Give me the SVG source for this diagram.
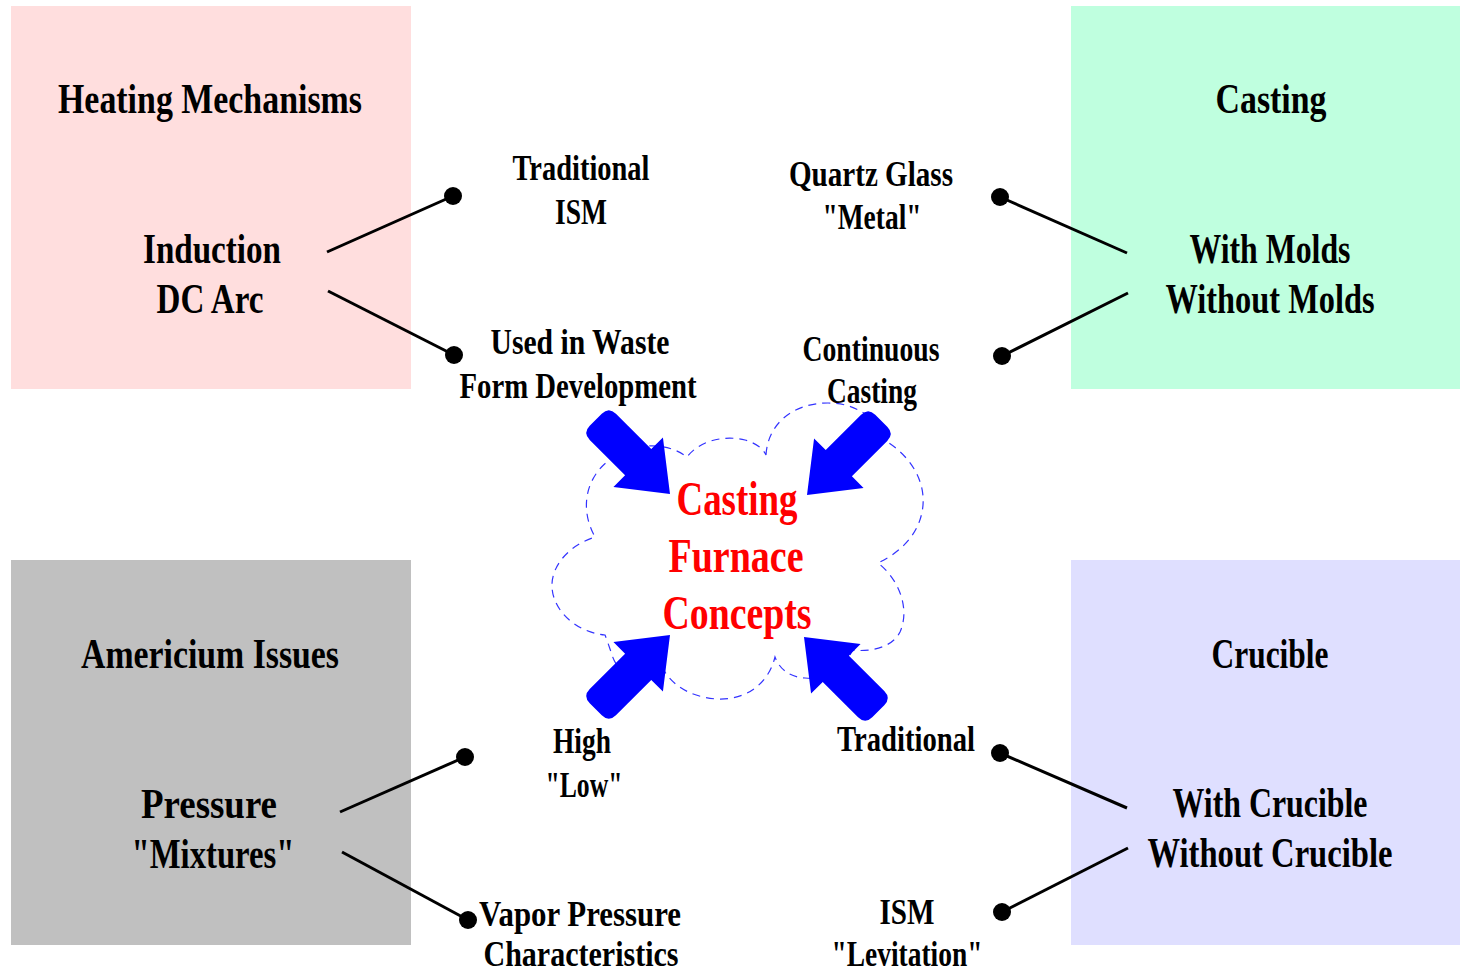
<svg xmlns="http://www.w3.org/2000/svg" width="1460" height="975" viewBox="0 0 1460 975">
<defs>
<style>
.h{font-family:"Liberation Serif","Times New Roman",serif;font-weight:bold;font-size:42px;fill:#000;text-anchor:middle}
.m{font-family:"Liberation Serif","Times New Roman",serif;font-weight:bold;font-size:35px;fill:#000;text-anchor:middle}
.c{font-family:"Liberation Serif","Times New Roman",serif;font-weight:bold;font-size:48px;fill:#ff0000;text-anchor:middle}
.ln{stroke:#000;stroke-width:3;fill:none}
.dot{fill:#000}
.arr{fill:#0000ff}
</style>
<path id="arrow" d="M0,0 L-45,-35 L-45,-18.5 L-95,-18.5 Q-105,-18.5 -105,-8.5 L-105,8.5 Q-105,18.5 -95,18.5 L-45,18.5 L-45,35 Z"/>
</defs>
<rect width="1460" height="975" fill="#fff"/>

<g id="heating">
<rect x="11" y="6" width="400" height="383" fill="#ffdede"/>
<text class="h" x="210" y="113" textLength="304" lengthAdjust="spacingAndGlyphs">Heating Mechanisms</text>
<text class="h" x="212" y="263" textLength="138" lengthAdjust="spacingAndGlyphs">Induction</text>
<text class="h" x="210" y="313" textLength="107" lengthAdjust="spacingAndGlyphs">DC Arc</text>
</g>

<g id="casting">
<rect x="1071" y="6" width="389" height="383" fill="#bfffdf"/>
<text class="h" x="1271" y="113" textLength="111" lengthAdjust="spacingAndGlyphs">Casting</text>
<text class="h" x="1270" y="263" textLength="161" lengthAdjust="spacingAndGlyphs">With Molds</text>
<text class="h" x="1270" y="313" textLength="209" lengthAdjust="spacingAndGlyphs">Without Molds</text>
</g>

<g id="americium">
<rect x="11" y="560" width="400" height="385" fill="#c0c0c0"/>
<text class="h" x="210" y="668" textLength="258" lengthAdjust="spacingAndGlyphs">Americium Issues</text>
<text class="h" x="209" y="818" textLength="136" lengthAdjust="spacingAndGlyphs">Pressure</text>
<text class="h" x="213" y="868" textLength="163" lengthAdjust="spacingAndGlyphs">"Mixtures"</text>
</g>

<g id="crucible">
<rect x="1071" y="560" width="389" height="385" fill="#dfdfff"/>
<text class="h" x="1270" y="668" textLength="117" lengthAdjust="spacingAndGlyphs">Crucible</text>
<text class="h" x="1270" y="817" textLength="195" lengthAdjust="spacingAndGlyphs">With Crucible</text>
<text class="h" x="1270" y="867" textLength="245" lengthAdjust="spacingAndGlyphs">Without Crucible</text>
</g>

<g id="center">
<path d="M766,455 C768,422 795,403 828,403 C858,403 878,420 884,440 C910,455 925,480 923,505 C921,530 905,550 878,563 C900,580 910,610 900,632 C892,648 870,652 852,650 C845,672 825,680 805,678 C790,677 780,670 775,657 C768,685 745,700 718,699 C695,698 675,688 665,672 C640,685 618,675 612,655 C609,646 607,640 605,635 C575,632 553,610 552,587 C551,565 570,545 595,537 C580,510 585,480 607,462 C630,443 665,440 687,457 C700,440 725,435 745,440 C755,443 763,448 766,455 Z" fill="none" stroke="#3333ff" stroke-width="1.2" stroke-dasharray="8 6"/>
<use href="#arrow" class="arr" transform="translate(670,494) rotate(45)"/>
<use href="#arrow" class="arr" transform="translate(807,495) rotate(135)"/>
<use href="#arrow" class="arr" transform="translate(670,635) rotate(-45)"/>
<use href="#arrow" class="arr" transform="translate(804,637) rotate(-135)"/>
<text class="c" x="737" y="515" textLength="121" lengthAdjust="spacingAndGlyphs">Casting</text>
<text class="c" x="736" y="572" textLength="135" lengthAdjust="spacingAndGlyphs">Furnace</text>
<text class="c" x="737" y="629" textLength="149" lengthAdjust="spacingAndGlyphs">Concepts</text>
</g>

<g id="opt-traditional-ism">
<text class="m" x="581" y="180" textLength="137" lengthAdjust="spacingAndGlyphs">Traditional</text>
<text class="m" x="581" y="224" textLength="52" lengthAdjust="spacingAndGlyphs">ISM</text>
</g>
<g id="opt-waste">
<text class="m" x="580" y="354" textLength="179" lengthAdjust="spacingAndGlyphs">Used in Waste</text>
<text class="m" x="578" y="398" textLength="237" lengthAdjust="spacingAndGlyphs">Form Development</text>
</g>
<g id="opt-quartz">
<text class="m" x="871" y="186" textLength="164" lengthAdjust="spacingAndGlyphs">Quartz Glass</text>
<text class="m" x="872" y="229" textLength="99" lengthAdjust="spacingAndGlyphs">"Metal"</text>
</g>
<g id="opt-continuous">
<text class="m" x="871" y="361" textLength="137" lengthAdjust="spacingAndGlyphs">Continuous</text>
<text class="m" x="872" y="403" textLength="90" lengthAdjust="spacingAndGlyphs">Casting</text>
</g>
<g id="opt-high">
<text class="m" x="582" y="753" textLength="58" lengthAdjust="spacingAndGlyphs">High</text>
<text class="m" x="584" y="797" textLength="77" lengthAdjust="spacingAndGlyphs">"Low"</text>
</g>
<g id="opt-vapor">
<text class="m" x="580" y="926" textLength="202" lengthAdjust="spacingAndGlyphs">Vapor Pressure</text>
<text class="m" x="581" y="966" textLength="195" lengthAdjust="spacingAndGlyphs">Characteristics</text>
</g>
<g id="opt-traditional">
<text class="m" x="906" y="751" textLength="138" lengthAdjust="spacingAndGlyphs">Traditional</text>
</g>
<g id="opt-levitation">
<text class="m" x="907" y="924" textLength="55" lengthAdjust="spacingAndGlyphs">ISM</text>
<text class="m" x="907" y="966" textLength="151" lengthAdjust="spacingAndGlyphs">"Levitation"</text>
</g>

<g id="connectors">
<line class="ln" x1="327" y1="252" x2="453" y2="196"/>
<circle class="dot" cx="453" cy="196" r="9"/>
<line class="ln" x1="328" y1="291" x2="454" y2="355"/>
<circle class="dot" cx="454" cy="355" r="9"/>
<line class="ln" x1="1127" y1="253" x2="1000" y2="197"/>
<circle class="dot" cx="1000" cy="197" r="9"/>
<line class="ln" x1="1128" y1="293" x2="1002" y2="356"/>
<circle class="dot" cx="1002" cy="356" r="9"/>
<line class="ln" x1="340" y1="812" x2="465" y2="757"/>
<circle class="dot" cx="465" cy="757" r="9"/>
<line class="ln" x1="342" y1="852" x2="468" y2="920"/>
<circle class="dot" cx="468" cy="920" r="9"/>
<line class="ln" x1="1127" y1="808" x2="1000" y2="753"/>
<circle class="dot" cx="1000" cy="753" r="9"/>
<line class="ln" x1="1128" y1="848" x2="1002" y2="912"/>
<circle class="dot" cx="1002" cy="912" r="9"/>
</g>
</svg>
